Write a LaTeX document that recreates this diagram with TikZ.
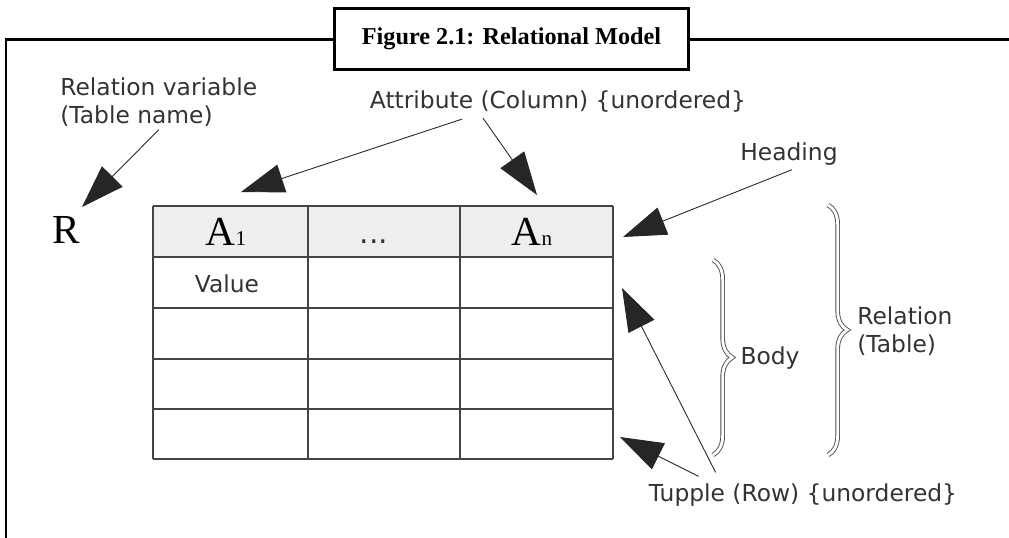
\documentclass[tikz,border=0pt]{standalone}
\usepackage{fontspec}
\setmainfont{Liberation Serif}
\newfontfamily\labelfont{DejaVu Sans}
\usetikzlibrary{arrows.meta,calc,decorations.pathreplacing}
\definecolor{labelgray}{HTML}{333333}
\definecolor{headgray}{HTML}{EEEEEE}
\definecolor{linegray}{HTML}{444444}
\tikzset{
  lbl/.style={inner sep=0pt, text=labelgray, font=\labelfont\fontsize{13.3}{15.9}\selectfont},
  bigarrow/.style={draw=black!85, line width=0.5pt, -{Triangle[length=0.86cm,width=0.58cm]}},
  curly/.style={decorate, decoration={brace, amplitude=11pt}, draw=black!70, line width=0.5pt, double=white, double distance=1.6pt},
  serifbig/.style={inner sep=0pt, font=\fontsize{23.5}{23.5}\selectfont},
  gridline/.style={linegray, line width=0.8pt},
}

\begin{document}
\begin{tikzpicture}[x=0.02cm, y=-0.02cm]
\useasboundingbox (0,0) rectangle (1009,538);
% frame and caption
\draw[line width=0.06cm] (1009,39) -- (6,39) -- (6,538);
\node[draw, fill=white, line width=0.06cm, minimum width=7.1cm, minimum height=1.24cm, inner sep=0pt,
  font=\fontsize{13.8}{16}\selectfont\bfseries] (title) at (511.5,39) {Figure 2.1: Relational Model};

% table
\fill[headgray] (153,206) rectangle (613,257);
\foreach \x in {153,308,460,613} {
 \draw[gridline] (\x,206) -- (\x,459);
}
\foreach \y in {206,257,308,359,409,459} {
 \draw[gridline] (153,\y) -- (613,\y);
}
\node[serifbig] (rname) at (66.5,230) {R};
\node[serifbig] (aone) at (226,232) {A{\fontsize{12}{12}\selectfont 1}};
\node[lbl, font=\labelfont\fontsize{17}{17}\selectfont] (dots) at (374,242) {...};
\node[serifbig] (an) at (532,232) {A{\fontsize{12}{12}\selectfont n}};
\node[lbl] (value) at (227,284) {Value};

% labels
\node[lbl, align=left, anchor=west] (relvar) at (60,102) {Relation variable\\(Table name)};
\node[lbl] (attr) at (558,102) {Attribute (Column) \{unordered\}};
\node[lbl] (heading) at (789,154) {Heading};
\node[lbl] (body) at (770,358) {Body};
\node[lbl, align=left, anchor=west] (relation) at (857,331) {Relation\\(Table)};
\node[lbl] (tupple) at (803,495) {Tupple (Row) \{unordered\}};

% braces
\draw[curly] (713,260) -- (713,455);
\draw[curly] (828,205) -- (828,455);

% arrows
\coordinate (rtip) at (82,207);
\coordinate (aonetip) at (241,192);
\coordinate (antip) at (537,195);
\coordinate (headtip) at (623,237);
\coordinate (rowtip) at (622,288);
\coordinate (lasttip) at (620,437);
\draw[bigarrow] ($(relvar.south)+(0,3)$) -- (rtip);
\draw[bigarrow] ($(attr.south)+(-96,6)$) -- (aonetip);
\draw[bigarrow] ($(attr.south)+(-75,5)$) -- (antip);
\draw[bigarrow] ($(heading.south)+(3,4)$) -- (headtip);
\draw[bigarrow] ($(tupple.north west)+(67,-11)$) -- (rowtip);
\draw[bigarrow] ($(tupple.north west)+(50,-7)$) -- (lasttip);
\end{tikzpicture}
\end{document}
